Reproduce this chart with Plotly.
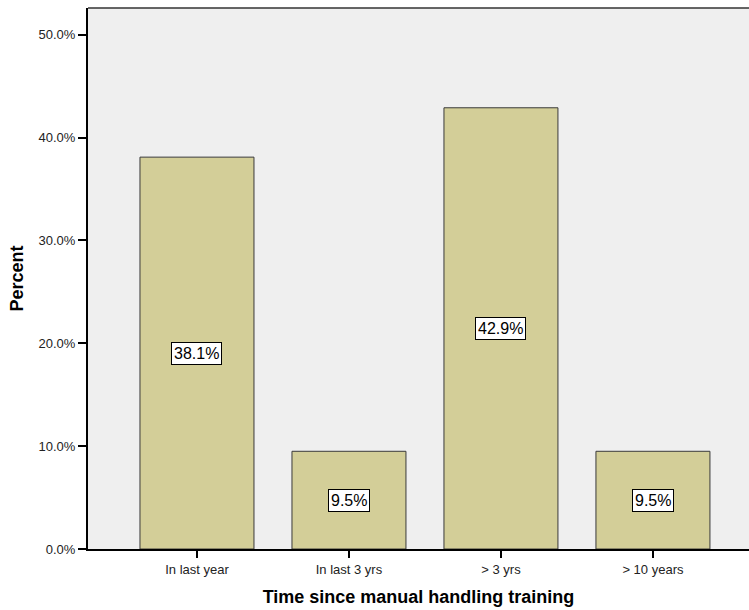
import plotly.graph_objects as go

categories = ["In last year", "In last 3 yrs", "> 3 yrs", "> 10 years"]
percents = [38.1, 9.5, 42.9, 9.5]
y_ticks = [0, 10, 20, 30, 40, 50]
y_tick_text = ["0.0%", "10.0%", "20.0%", "30.0%", "40.0%", "50.0%"]

font = "Liberation Sans, Arial, sans-serif"

fig = go.Figure()
fig.add_trace(go.Bar(
    x=list(range(len(categories))),
    y=percents,
    width=0.75,
    marker=dict(color="#d3ce98", line=dict(color="#3a3a3a", width=1)),
    hoverinfo="skip",
))

# value labels in white boxes at half bar height
for i, v in enumerate(percents):
    fig.add_annotation(
        x=i, y=v / 2, text=f"{v:.1f}%", showarrow=False,
        font=dict(family=font, size=16, color="black"),
        bgcolor="white", bordercolor="black", borderwidth=1, borderpad=2,
    )

fig.update_layout(
    width=749, height=610,
    margin=dict(l=88, r=0, t=8, b=61),
    paper_bgcolor="white",
    plot_bgcolor="#efefef",
    showlegend=False,
    font=dict(family=font, size=13, color="#222222"),
    xaxis=dict(
        range=[-0.717, 3.632],
        tickmode="array",
        tickvals=list(range(len(categories))),
        ticktext=categories,
        ticks="outside", ticklen=7, tickwidth=2, tickcolor="black",
        showline=True, linecolor="black", linewidth=2,
        showgrid=False, zeroline=False,
        tickfont=dict(family=font, size=13, color="#222222"),
        title=dict(text="<b>Time since manual handling training</b>",
                   font=dict(family=font, size=18, color="black"), standoff=15),
    ),
    yaxis=dict(
        range=[0, 52.6],
        tickmode="array",
        tickvals=y_ticks,
        ticktext=y_tick_text,
        ticks="outside", ticklen=8, tickwidth=2, tickcolor="black",
        showline=True, linecolor="black", linewidth=2,
        showgrid=False, zeroline=False,
        tickfont=dict(family=font, size=13, color="#222222"),
        title=dict(text="<b>Percent</b>",
                   font=dict(family=font, size=18, color="black"), standoff=10),
    ),
    shapes=[dict(type="line", xref="paper", yref="paper", x0=0, x1=1, y0=1, y1=1,
                 line=dict(color="#333333", width=1.5))],
)

fig.write_html("out.html")
